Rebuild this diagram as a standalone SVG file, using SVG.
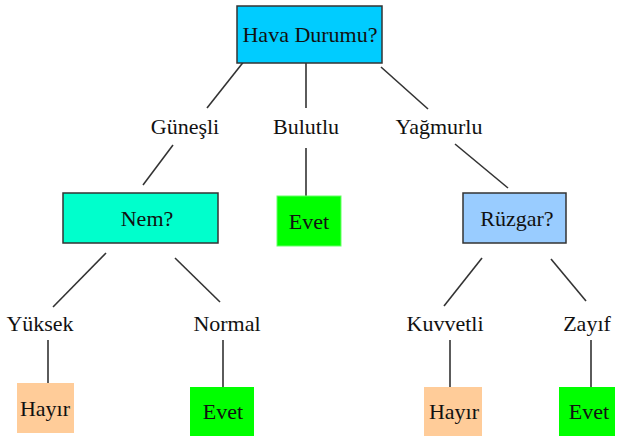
<svg xmlns="http://www.w3.org/2000/svg" width="617" height="437" viewBox="0 0 617 437">
<style>
text{font-family:"Liberation Serif","Times New Roman",serif;font-size:22px;fill:#111;text-anchor:middle}
.dec{stroke:#333;stroke-width:1.5}
.edge{stroke:#333;stroke-width:1.6;fill:none}
</style>
<rect width="617" height="437" fill="#fff"/>
<g id="connectors">
<line class="edge" x1="245" y1="60" x2="207" y2="108"/>
<line class="edge" x1="306" y1="62" x2="306" y2="108"/>
<line class="edge" x1="381" y1="67" x2="428" y2="109"/>
<line class="edge" x1="173" y1="145" x2="143" y2="185"/>
<line class="edge" x1="306" y1="148" x2="306" y2="196"/>
<line class="edge" x1="455" y1="144" x2="508" y2="188"/>
<line class="edge" x1="106" y1="253" x2="53" y2="307"/>
<line class="edge" x1="175" y1="258" x2="220" y2="302"/>
<line class="edge" x1="482" y1="258" x2="444" y2="306"/>
<line class="edge" x1="551" y1="259" x2="586" y2="301"/>
<line class="edge" x1="48" y1="340" x2="48" y2="383"/>
<line class="edge" x1="223" y1="340" x2="223" y2="387"/>
<line class="edge" x1="450" y1="340" x2="450" y2="387"/>
<line class="edge" x1="591" y1="340" x2="591" y2="387"/>
</g>
<g id="hava">
<rect class="dec" x="237" y="6" width="145" height="57" fill="#00CCFF"/>
<text x="310" y="42">Hava Durumu?</text>
</g>
<g id="l-gunesli"><text x="185" y="134">Güneşli</text></g>
<g id="l-bulutlu"><text x="306" y="134">Bulutlu</text></g>
<g id="l-yagmurlu"><text x="439" y="134">Yağmurlu</text></g>
<g id="nem">
<rect class="dec" x="63" y="193" width="155" height="50" fill="#00FFCC"/>
<text x="147" y="226">Nem?</text>
</g>
<g id="evet1">
<rect x="277" y="196" width="64" height="50" fill="#00FF00" stroke="#66ff66" stroke-width="1"/>
<text x="309" y="229">Evet</text>
</g>
<g id="ruzgar">
<rect class="dec" x="463" y="193" width="103" height="50" fill="#99CCFF"/>
<text x="517" y="226">Rüzgar?</text>
</g>
<g id="l-yuksek"><text x="40" y="331">Yüksek</text></g>
<g id="l-normal"><text x="227" y="331">Normal</text></g>
<g id="l-kuvvetli"><text x="445" y="331">Kuvvetli</text></g>
<g id="l-zayif"><text x="587" y="331">Zayıf</text></g>
<g id="hayir1">
<rect x="17" y="383" width="57" height="50" fill="#FFCC99"/>
<text x="45" y="416">Hayır</text>
</g>
<g id="evet2">
<rect x="190" y="387" width="64" height="49" fill="#00FF00"/>
<text x="223" y="419">Evet</text>
</g>
<g id="hayir2">
<rect x="424" y="387" width="58" height="49" fill="#FFCC99"/>
<text x="454" y="419">Hayır</text>
</g>
<g id="evet3">
<rect x="559" y="387" width="56" height="49" fill="#00FF00"/>
<text x="589" y="419">Evet</text>
</g>
</svg>
